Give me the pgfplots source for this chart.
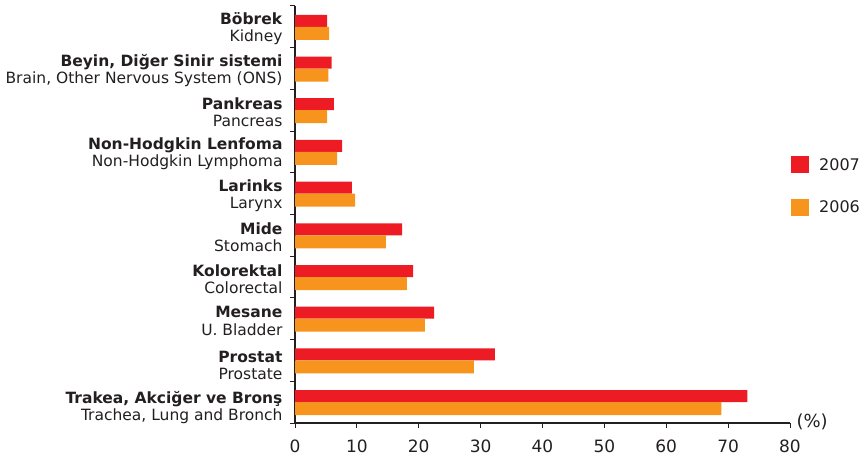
\documentclass[border=0pt]{standalone}
\usepackage{fontspec}
\setmainfont{DejaVu Sans}
\usepackage{pgfplots}
\pgfplotsset{compat=1.18}
\definecolor{red07}{HTML}{ED1C24}
\definecolor{org06}{HTML}{F7941D}
\definecolor{txt}{HTML}{231F20}
\begin{document}
\begin{tikzpicture}
\path[use as bounding box] (0,0) rectangle (865bp,459bp);
\begin{axis}[
    at={(295bp,36bp)}, anchor=south west,
    scale only axis, width=495bp, height=417bp,
    xbar, bar width=12bp,
    xmin=0, xmax=80, ymin=-0.5, ymax=9.5,
    axis x line*=bottom, axis y line*=left,
    axis line style={-, line width=1.3bp, color=txt},
    every tick/.style={line width=1bp, color=txt},
    tick align=outside, major tick length=5bp,
    xtick={0,10,...,80},
    ytick={-0.5,0.5,...,9.5}, yticklabels={},
    extra y ticks={-0.08,0.93,2,3,4,5,6,7,8,9},
    extra y tick style={major tick length=0pt},
    extra y tick labels={
        {\textbf{Trakea, Akciğer ve Bronş}\\Trachea, Lung and Bronch},
        {\textbf{Prostat}\\Prostate},
        {\textbf{Mesane}\\U. Bladder},
        {\textbf{Kolorektal}\\Colorectal},
        {\textbf{Mide}\\Stomach},
        {\textbf{Larinks}\\Larynx},
        {\textbf{Non-Hodgkin Lenfoma}\\Non-Hodgkin Lymphoma},
        {\textbf{Pankreas}\\Pancreas},
        {\textbf{Beyin, Diğer Sinir sistemi}\\Brain, Other Nervous System (ONS)},
        {\textbf{Böbrek}\\Kidney}},
    yticklabel style={align=right, font=\fontsize{15.5bp}{17.5bp}\selectfont, text=txt,
        xshift=-9bp, yshift=-2bp},
    xticklabel style={font=\fontsize{17bp}{19bp}\selectfont, text=txt, yshift=-8bp},
    /pgf/number format/assume math mode=true,
    xlabel={(\%)},
    xlabel style={at={(rel axis cs:1,0)}, anchor=west, xshift=3bp, yshift=1bp,
        font=\fontsize{18bp}{20bp}\selectfont, text=txt},
    legend image code/.code={\fill[#1] (0bp,-8.5bp) rectangle (18bp,8.5bp);},
    legend style={draw=none, fill=none, at={(1.002,0.645)}, anchor=north west,
        font=\fontsize{16bp}{18bp}\selectfont, text=txt, row sep=21bp,
        inner sep=0pt, nodes={inner sep=4bp}},
    legend cell align=left,
]
\addplot[draw=none, fill=red07, bar shift=6bp] coordinates {
    (73.1,0) (32.3,1) (22.5,2) (19.1,3) (17.3,4)
    (9.2,5) (7.6,6) (6.3,7) (5.9,8) (5.2,9)};
\addplot[draw=none, fill=org06, bar shift=-6.5bp, bar width=13bp] coordinates {
    (68.9,0) (28.9,1) (21.0,2) (18.1,3) (14.7,4)
    (9.7,5) (6.8,6) (5.2,7) (5.4,8) (5.5,9)};
\legend{\hspace{6bp}2007,\hspace{6bp}2006}
\end{axis}
\end{tikzpicture}
\end{document}
